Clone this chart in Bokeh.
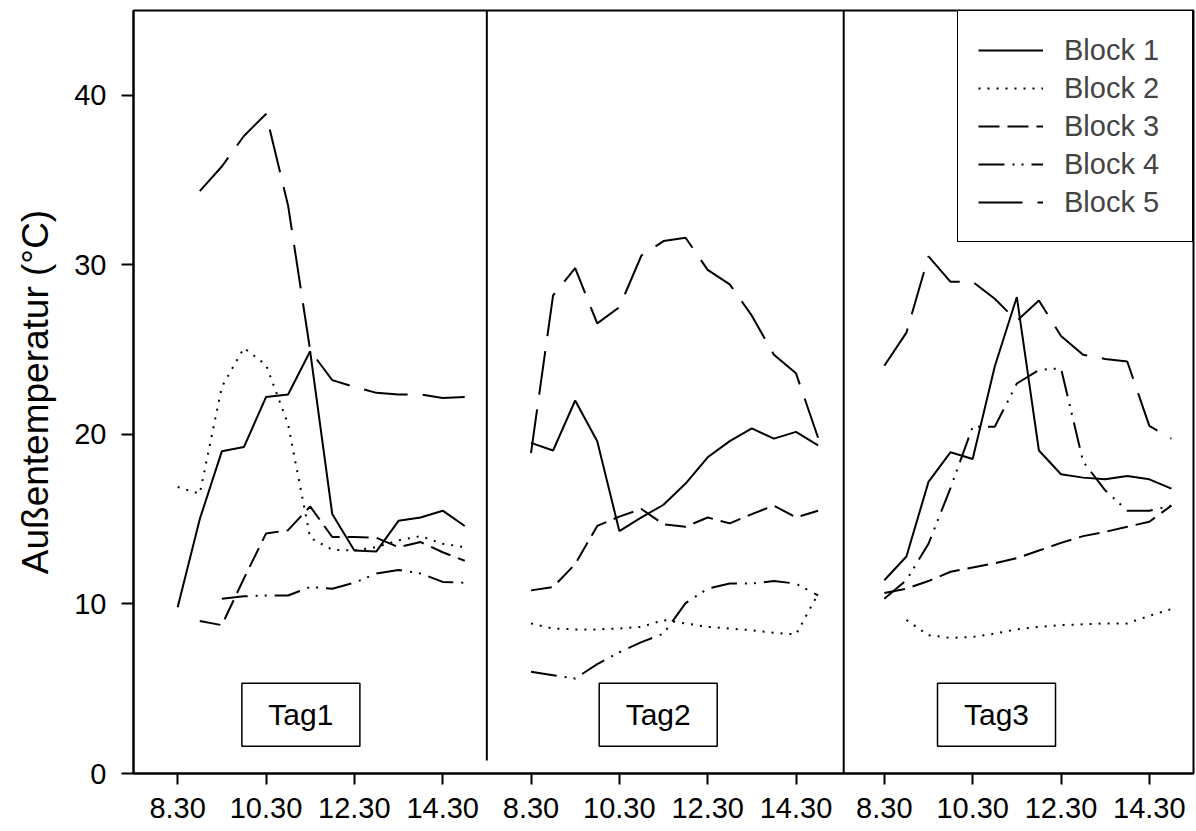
import math
from bokeh.plotting import figure
from bokeh.models import Range1d, FixedTicker, Legend, LegendItem
from bokeh.embed import file_html
from bokeh.resources import INLINE
from bokeh.core.properties import value

nan = float("nan")

# ---- data ----
hours = [0.0, 0.5, 1.0, 1.5, 2.0, 2.5, 3.0, 3.5, 4.0, 4.5, 5.0, 5.5, 6.0, 6.5]  # 8.30 ... 15.00
day_offsets = [0, 8, 16]
day_names = ["Tag1", "Tag2", "Tag3"]
tick_hours = [0, 2, 4, 6]
tick_labels = ["8.30", "10.30", "12.30", "14.30"]
y_ticks = [0, 10, 20, 30, 40]

block1_tag1 = [9.8, 15.0, 19.0, 19.25, 22.2, 22.35, 24.9, 15.3, 13.15, 13.1, 14.9, 15.1, 15.5, 14.6]
block2_tag1 = [16.9, 16.5, 22.8, 25.1, 24.1, 20.6, 13.9, 13.2, 13.15, 13.35, 13.75, 14.0, 13.55, 13.35]
block3_tag1 = [nan, 9.0, 8.75, 11.5, 14.15, 14.35, 15.75, 13.95, 13.95, 13.9, 13.35, 13.65, 13.05, 12.55]
block4_tag1 = [nan, nan, 10.3, 10.45, 10.5, 10.5, 11.0, 10.9, 11.25, 11.8, 12.0, 11.8, 11.3, 11.25]
block5_tag1 = [nan, 34.35, 35.8, 37.6, 38.9, 33.5, 24.95, 23.2, 22.8, 22.45, 22.35, 22.35, 22.15, 22.2]

block1_tag2 = [19.5, 19.05, 22.0, 19.6, 14.3, 15.1, 15.85, 17.1, 18.65, 19.6, 20.35, 19.75, 20.15, 19.35]
block2_tag2 = [8.85, 8.55, 8.5, 8.5, 8.55, 8.65, 9.05, 8.85, 8.65, 8.55, 8.45, 8.3, 8.2, 10.6]
block3_tag2 = [10.8, 11.0, 12.35, 14.6, 15.15, 15.6, 14.7, 14.55, 15.1, 14.75, 15.3, 15.8, 15.1, 15.5]
block4_tag2 = [6.0, 5.8, 5.6, 6.45, 7.15, 7.75, 8.25, 10.05, 10.9, 11.2, 11.2, 11.35, 11.2, 10.5]
block5_tag2 = [18.9, 28.2, 29.8, 26.55, 27.5, 30.55, 31.4, 31.6, 29.7, 28.85, 27.0, 24.7, 23.6, 19.8]

block1_tag3 = [11.4, 12.8, 17.2, 18.95, 18.55, 24.0, 28.1, 19.05, 17.65, 17.45, 17.35, 17.55, 17.35, 16.8]
block2_tag3 = [nan, 9.05, 8.15, 8.0, 8.05, 8.25, 8.5, 8.65, 8.75, 8.8, 8.85, 8.85, 9.3, 9.7]
block3_tag3 = [10.65, 10.9, 11.35, 11.9, 12.15, 12.4, 12.7, 13.15, 13.6, 14.0, 14.25, 14.55, 14.85, 15.8]
block4_tag3 = [10.3, 11.4, 13.55, 16.85, 20.45, 20.45, 23.0, 23.8, 23.9, 18.4, 16.7, 15.5, 15.5, 15.8]
block5_tag3 = [24.05, 26.0, 30.5, 29.0, 29.0, 28.0, 26.7, 27.9, 25.8, 24.7, 24.45, 24.3, 20.5, 19.75]

blocks = {
    "Block 1": [block1_tag1, block1_tag2, block1_tag3],
    "Block 2": [block2_tag1, block2_tag2, block2_tag3],
    "Block 3": [block3_tag1, block3_tag2, block3_tag3],
    "Block 4": [block4_tag1, block4_tag2, block4_tag3],
    "Block 5": [block5_tag1, block5_tag2, block5_tag3],
}

separator_x = [7.0, 15.08]
separator_bottom = [0.77, 0.0]
separator_top = [45.0, 45.0]

tag_x = [2.79, 10.88, 18.54]
tag_y = [3.46, 3.46, 3.46]

# ---- styles ----
FONT = "Liberation Sans"
dashes = {
    "Block 1": "solid",
    "Block 2": "2 7",
    "Block 3": "21 8",
    "Block 4": "26 8 2 7 2 8",
    "Block 5": "44 15",
}

p = figure(width=1196, height=831, x_range=Range1d(-1, 23), y_range=Range1d(0, 45),
           output_backend="svg", toolbar_location=None,
           min_border_left=133, min_border_right=3, min_border_top=10, min_border_bottom=58)
p.background_fill_color = "white"
p.border_fill_color = "white"
p.xgrid.visible = False
p.ygrid.visible = False
p.outline_line_color = "black"
p.outline_line_width = 2
p.outline_line_alpha = 1.0

# axes
p.xaxis.ticker = FixedTicker(ticks=[d + h for d in day_offsets for h in tick_hours])
p.xaxis.major_label_overrides = {d + h: lab for d in day_offsets for h, lab in zip(tick_hours, tick_labels)}
p.yaxis.ticker = FixedTicker(ticks=y_ticks)
for ax in (p.xaxis[0], p.yaxis[0]):
    ax.axis_line_width = 2
    ax.axis_line_color = "black"
    ax.major_tick_line_width = 2
    ax.major_tick_line_color = "black"
    ax.major_tick_in = 0
    ax.minor_tick_line_color = None
    ax.major_label_text_font = FONT
    ax.major_label_text_font_size = "29px"
    ax.major_label_text_color = "black"
p.xaxis.major_tick_out = 11
p.yaxis.major_tick_out = 12
p.xaxis.major_label_standoff = 13
p.yaxis.major_label_standoff = 15
p.yaxis.axis_label = "Außentemperatur (°C)"
p.yaxis.axis_label_text_font = FONT
p.yaxis.axis_label_text_font_size = "37px"
p.yaxis.axis_label_text_font_style = "normal"
p.yaxis.axis_label_text_color = "black"
p.yaxis.axis_label_standoff = 15

# data lines
items = []
for name, per_day in blocks.items():
    first = None
    for off, vals in zip(day_offsets, per_day):
        xs = [off + h for h in hours]
        r = p.line(xs, vals, line_color="black", line_width=2, line_dash=dashes[name])
        if first is None:
            first = r
    items.append(LegendItem(label=name, renderers=[first]))

# day separators
p.segment(x0=separator_x, y0=separator_bottom, x1=separator_x, y1=separator_top,
          line_color="black", line_width=2)

# day labels
p.rect(x=tag_x, y=tag_y, width=118, height=63, width_units="screen", height_units="screen",
       fill_color="white", line_color="black", line_width=1.5)
p.text(x=tag_x, y=tag_y, text=day_names, text_align="center", text_baseline="middle",
       text_font=value(FONT), text_font_size="30px", text_color="black")

legend = Legend(items=items, location="top_right", margin=0, padding=20, spacing=0,
                glyph_width=65, glyph_height=38, label_height=38, label_width=108,
                label_standoff=21, label_text_font=FONT, label_text_font_size="29px",
                border_line_color="black", border_line_width=1.5, border_line_alpha=1.0,
                background_fill_color="white", background_fill_alpha=1.0)
p.add_layout(legend)

open("out.html", "w").write(file_html(p, INLINE))
